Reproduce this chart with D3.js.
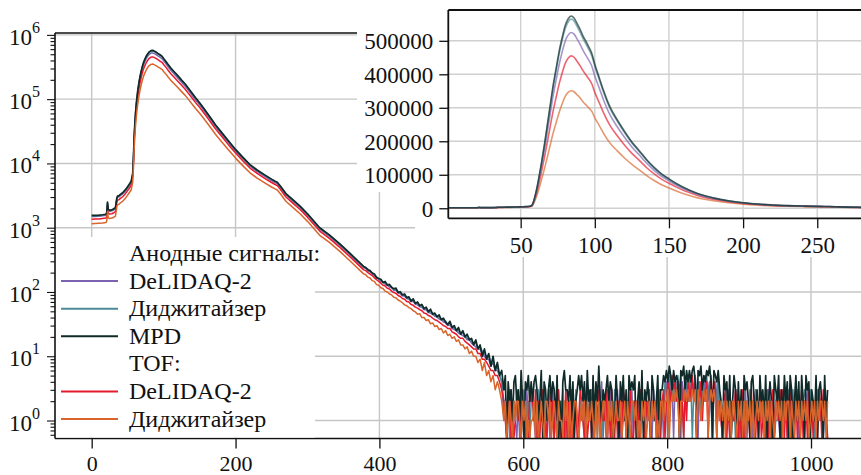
<!DOCTYPE html>
<html>
<head>
<meta charset="utf-8">
<script src="https://cdn.jsdelivr.net/npm/d3@7"></script>
<style>
  body { margin: 0; background: #fff; }
</style>
</head>
<body>
<div id="chart"></div>
<script>
// ---- data: bins of the smooth part of the spectra ----
const binsSmooth = [
  0, 5, 10, 15, 20, 21, 22, 23, 25, 28,
  30, 33, 35, 36, 38, 40, 43, 46, 49, 52,
  55, 57, 58, 59, 60, 61, 62, 64, 66, 68,
  70, 72, 74, 76, 78, 80, 82, 84, 86, 88,
  90, 92, 95, 98, 100, 103, 106, 110, 115, 120,
  125, 130, 135, 140, 145, 150, 155, 160, 166, 172,
  180, 190, 200, 210, 220, 230, 240, 250, 255, 258,
  262, 270, 280, 290, 300, 317, 330, 345, 360, 378
];

// anode, DeLIDAQ-2
const anodeDelidaqSmooth = [
  1490, 1500, 1510, 1530, 1560, 1680, 2350, 1850, 1800, 1830,
  1870, 1960, 2780, 2970, 3020, 3170, 3350, 3630, 4010, 4480,
  5050, 6600, 11000, 23000, 38500, 57000, 78000, 124000, 174000, 229000,
  284000, 339000, 385000, 430000, 467000, 499000, 517000, 525000, 520000, 506000,
  490000, 472000, 449000, 424000, 395000, 359000, 322000, 281000, 244000, 212000,
  183000, 159000, 134500, 113000, 95500, 81800, 68900, 57800, 46700, 37400,
  29000, 21100, 15500, 11800, 9070, 7480, 6350, 5400, 5030, 4840,
  4270, 3230, 2570, 2040, 1570, 950, 740, 532, 371, 238
];
// anode, digitizer
const anodeDigitizerSmooth = [
  1520, 1530, 1540, 1560, 1590, 1720, 2400, 1900, 1840, 1870,
  1910, 2000, 2850, 3050, 3100, 3250, 3430, 3720, 4120, 4600,
  5200, 6800, 11500, 24000, 41000, 60000, 83000, 132000, 186000, 245000,
  304000, 363000, 413000, 462000, 502000, 536000, 556000, 565000, 559000, 543000,
  526000, 507000, 482000, 455000, 424000, 384000, 345000, 300000, 261000, 226000,
  195000, 169000, 143000, 120000, 101000, 86500, 72800, 61000, 49200, 39400,
  30500, 22100, 16200, 12300, 9450, 7780, 6600, 5600, 5210, 5020,
  4430, 3350, 2660, 2110, 1620, 985, 765, 550, 383, 246
];
// anode, MPD
const anodeMpdSmooth = [
  1550, 1560, 1570, 1590, 1620, 1750, 2500, 1950, 1880, 1900,
  1950, 2050, 2900, 3100, 3150, 3300, 3500, 3800, 4200, 4700,
  5300, 7000, 12000, 25000, 42000, 62000, 85000, 135000, 190000, 250000,
  310000, 370000, 420000, 470000, 510000, 545000, 565000, 574000, 568000, 552000,
  535000, 515000, 490000, 462000, 430000, 390000, 350000, 305000, 265000, 230000,
  198000, 172000, 145000, 122000, 103000, 88000, 74000, 62000, 50000, 40000,
  31000, 22500, 16500, 12500, 9600, 7900, 6700, 5700, 5300, 5100,
  4500, 3400, 2700, 2150, 1650, 1000, 780, 560, 390, 250
];
// TOF, DeLIDAQ-2
const tofDelidaqSmooth = [
  1350, 1360, 1370, 1390, 1410, 1520, 2150, 1680, 1630, 1650,
  1690, 1780, 2500, 2680, 2730, 2860, 3030, 3290, 3640, 4070,
  4600, 6000, 9800, 20500, 34000, 50000, 68000, 108000, 151000, 198000,
  246000, 293000, 333000, 372000, 404000, 432000, 448000, 455000, 451000, 439000,
  426000, 411000, 392000, 371000, 346000, 315000, 284000, 249000, 217000, 189000,
  164000, 143000, 121000, 102500, 86800, 74500, 63000, 53000, 43000, 34500,
  26900, 19600, 14500, 11000, 8480, 6990, 5930, 5050, 4700, 4520,
  3990, 3010, 2390, 1900, 1460, 885, 690, 495, 345, 221
];
// TOF, digitizer
const tofDigitizerSmooth = [
  1150, 1160, 1170, 1180, 1200, 1290, 1800, 1420, 1390, 1410,
  1440, 1520, 2130, 2280, 2320, 2440, 2580, 2800, 3100, 3470,
  3900, 5100, 8200, 16500, 27000, 39000, 53000, 84000, 117000, 153000,
  190000, 226000, 257000, 287000, 312000, 334000, 346000, 351000, 348000, 339000,
  330000, 318000, 304000, 289000, 270000, 247000, 223000, 196000, 172000, 150000,
  131000, 114500, 97500, 82800, 70300, 60500, 51300, 43300, 35300, 28400,
  22200, 16300, 12100, 9250, 7150, 5920, 5030, 4300, 4010, 3860,
  3410, 2580, 2050, 1630, 1255, 762, 595, 428, 298, 191
];

// ---- tail: bins 381, 384, ... 570 (every 3rd bin) ----
const decayStart = 381;
const decayStep = 3;
const anodeDelidaqDecay = [232, 214, 206, 190, 181, 165, 158, 147, 141, 132, 127, 119, 116, 106, 107, 97,
  94, 87, 86, 79, 77, 71, 71, 65, 63, 59, 58, 53, 53, 48, 47, 45, 42, 41, 38, 37, 34, 33, 30, 31,
  27, 26, 25, 23, 22, 21, 20, 18, 18, 16, 15, 14, 13, 13, 11, 10, 9, 9, 7, 8, 6, 6, 5, 4];
const anodeDigitizerDecay = [236, 225, 208, 199, 183, 172, 160, 152, 143, 139, 131, 125, 120, 109, 110, 101,
  96, 92, 88, 84, 79, 75, 73, 68, 66, 62, 60, 56, 55, 51, 50, 47, 44, 43, 40, 38, 36, 35, 31, 33,
  29, 27, 26, 25, 23, 23, 21, 19, 19, 17, 16, 16, 13, 14, 12, 11, 10, 10, 8, 8, 6, 7, 5, 4];
const anodeMpdDecay = [240, 222, 215, 197, 190, 168, 162, 158, 140, 146, 128, 131, 118, 112, 115, 98,
  101, 90, 93, 81, 84, 72, 78, 66, 70, 61, 64, 55, 58, 49, 54, 45, 47, 41, 44, 37, 39, 34, 31, 35,
  28, 30, 25, 28, 22, 25, 20, 22, 18, 19, 15, 18, 13, 15, 10, 13, 9, 11, 7, 10, 6, 8, 5, 6];
const tofDelidaqDecay = [215, 200, 190, 180, 166, 155, 146, 137, 127, 124, 114, 111, 103, 98, 95, 88,
  85, 79, 77, 71, 70, 64, 62, 58, 56, 53, 51, 47, 46, 43, 42, 39, 37, 36, 34, 32, 30, 29, 27, 27,
  24, 23, 22, 20, 19, 19, 17, 16, 15, 14, 13, 13, 11, 11, 9, 9, 8, 7, 6, 6, 5, 5, 4, 3];
const tofDigitizerDecay = [185, 170, 165, 150, 146, 130, 127, 116, 113, 103, 100, 93, 90, 83, 81, 75,
  72, 68, 63, 61, 57, 55, 51, 49, 45, 46, 40, 40, 36, 37, 32, 33, 29, 30, 26, 27, 23, 25, 21, 22,
  19, 20, 17, 18, 15, 15, 13, 14, 11, 12, 10, 10, 8, 9, 6, 8, 5, 6, 4, 5, 3, 4, 3, 2];

// ---- background counts: bins 573, 575, ... 1023, one digit per bin ----
const noiseStart = 573;
const noiseStep = 2;
const anodeDelidaqNoise =
  "1202301210" + "2031203122" + "3102021102" + "2201302221" + "1302102102" +
  "2102213021" + "1302212240" + "2102302113" + "1031220213" + "0222103102" +
  "2120312021" + "2034253304" + "4230425324" + "2435204322" + "5234204235" +
  "2102213021" + "1302022130" + "2120232022" + "1202320212" + "3102112320" +
  "1021302210" + "2301120231" + "220210";
const anodeDigitizerNoise =
  "2212030212" + "2102321202" + "2120312130" + "1312102031" + "2120322021" +
  "3102110231" + "1122302102" + "2031220312" + "1203122031" + "2110322102" +
  "1302112032" + "2143025324" + "3524203425" + "4035243142" + "3524203415" +
  "1202131202" + "2031220212" + "1312032021" + "2023122301" + "1220322031" +
  "1302120223" + "2103120312" + "120311";
const anodeMpdNoise =
  "3504231452" + "3162043524" + "2453126043" + "1352431502" + "0463325140" +
  "2353524162" + "3051427213" + "2352430152" + "0425130534" + "3502416032" +
  "4205312503" + "3546475364" + "5406573646" + "4674065735" + "4657406546" +
  "3205341502" + "5304130534" + "2045213052" + "3150242053" + "2503152405" +
  "3025140520" + "5340321503" + "420513";
const tofDelidaqNoise =
  "2102302013" + "1203101032" + "2130202301" + "0231202130" + "1203020302" +
  "2013210201" + "3020213021" + "1302031020" + "2103202130" + "0212031202" +
  "1302120310" + "2302432534" + "2435203142" + "3524032413" + "2403524302" +
  "2102302021" + "1320203012" + "2031202130" + "1203020302" + "2130302023" +
  "0213021302" + "2031202103" + "203120";
const tofDigitizerNoise =
  "1201210212" + "2102120101" + "1202012102" + "2120121021" + "1021202012" +
  "2101212021" + "1210202012" + "2102120121" + "1201202102" + "2120102120" +
  "1202120102" + "2122302232" + "3202223232" + "2323032123" + "2302323202" +
  "1212021202" + "2102120202" + "1202012121" + "2021202102" + "1212021220" +
  "2102120212" + "1201212021" + "221202";

// ---- labels and ticks ----
const seriesLabels = ["DeLIDAQ-2", "Диджитайзер", "MPD", "DeLIDAQ-2", "Диджитайзер"];
const groupLabels = ["Анодные сигналы:", "TOF:"];
const mainXTicks = [0, 200, 400, 600, 800, 1000];
const mainYDecades = [0, 1, 2, 3, 4, 5, 6];
const insetXTicks = [50, 100, 150, 200, 250];
const insetYTicks = [0, 100000, 200000, 300000, 400000, 500000];

// ---- styles ----
const seriesColors = ["#7d62b0", "#4b8a97", "#0f2a28", "#e61a2e", "#d9652b"];
const gridColor = "#c6c6c6";
const serif = '"Liberation Serif", "DejaVu Serif", "Noto Serif", serif';

function buildSeries(smooth, decay, noise) {
  const pts = binsSmooth.map((b, i) => [b, smooth[i]]);
  decay.forEach((v, i) => pts.push([decayStart + i * decayStep, v]));
  noise.split("").forEach((c, i) => pts.push([noiseStart + i * noiseStep, +c]));
  return pts;
}

const series = [
  buildSeries(anodeDelidaqSmooth, anodeDelidaqDecay, anodeDelidaqNoise),
  buildSeries(anodeDigitizerSmooth, anodeDigitizerDecay, anodeDigitizerNoise),
  buildSeries(anodeMpdSmooth, anodeMpdDecay, anodeMpdNoise),
  buildSeries(tofDelidaqSmooth, tofDelidaqDecay, tofDelidaqNoise),
  buildSeries(tofDigitizerSmooth, tofDigitizerDecay, tofDigitizerNoise)
];
// main plot: TOF DeLIDAQ under MPD, TOF digitizer on top; inset: MPD on top
const mainOrder = [0, 1, 3, 2, 4];
const insetOrder = [4, 3, 0, 1, 2];

const svg = d3.select("#chart").append("svg")
    .attr("width", 861)
    .attr("height", 475)
    .attr("font-family", serif);

svg.append("rect").attr("width", 861).attr("height", 475).attr("fill", "#fff");

// ================= main (log) axes =================
const main = {left: 55, right: 861, top: 33, bottom: 438.5};
const xMain = d3.scaleLinear().domain([-51, 1069.5]).range([main.left, main.right]);
const yMain = d3.scaleLog().domain([0.525, 1.07e6]).range([main.bottom, main.top]).clamp(true);

const defs = svg.append("defs");
defs.append("clipPath").attr("id", "clip-main").append("rect")
    .attr("x", main.left).attr("y", main.top)
    .attr("width", main.right - main.left).attr("height", main.bottom - main.top);

const mainGrid = svg.append("g").attr("clip-path", "url(#clip-main)");
mainGrid.selectAll(".vgrid").data(mainXTicks).join("line")
    .attr("x1", d => xMain(d)).attr("x2", d => xMain(d))
    .attr("y1", main.top).attr("y2", main.bottom)
    .attr("stroke", gridColor).attr("stroke-width", 1.4);
mainGrid.selectAll(".hgrid").data(mainYDecades).join("line")
    .attr("x1", main.left).attr("x2", main.right)
    .attr("y1", d => yMain(Math.pow(10, d))).attr("y2", d => yMain(Math.pow(10, d)))
    .attr("stroke", gridColor).attr("stroke-width", 1.4);

const lineMain = d3.line().x(d => xMain(d[0])).y(d => yMain(d[1]));
svg.append("g").attr("clip-path", "url(#clip-main)")
  .selectAll("path").data(mainOrder).join("path")
    .attr("d", i => lineMain(series[i]))
    .attr("fill", "none")
    .attr("stroke", i => seriesColors[i])
    .attr("stroke-width", i => i === 2 ? 1.7 : 1.5)
    .attr("stroke-linejoin", "round");

// spines
const spines = svg.append("g").attr("stroke", "#111").attr("stroke-width", 1.6);
spines.append("line").attr("x1", main.left).attr("x2", main.left).attr("y1", main.top).attr("y2", main.bottom);
spines.append("line").attr("x1", main.left).attr("x2", main.right).attr("y1", main.bottom).attr("y2", main.bottom);
spines.append("line").attr("x1", main.left).attr("x2", main.right).attr("y1", main.top).attr("y2", main.top);

// x axis
const xAxisMain = svg.append("g")
    .attr("transform", `translate(0,${main.bottom})`)
    .call(d3.axisBottom(xMain).tickValues(mainXTicks).tickSize(10).tickSizeOuter(0).tickFormat(d3.format("d")));
xAxisMain.attr("font-family", serif);
xAxisMain.select(".domain").remove();
xAxisMain.selectAll(".tick line").attr("stroke", "#111").attr("stroke-width", 1.3);
xAxisMain.selectAll(".tick text").attr("y", 32).attr("dy", 0)
    .attr("fill", "#111").style("font-family", serif).style("font-size", "22px");

// y axis (log) major + minor ticks
const minorTicks = [];
[-1, 0, 1, 2, 3, 4, 5].forEach(k => {
  for (let m = 2; m <= 9; m++) {
    const v = m * Math.pow(10, k);
    if (v >= 0.525 && v <= 1.07e6) minorTicks.push(v);
  }
});
const yAxisMain = svg.append("g").attr("transform", `translate(${main.left},0)`);
yAxisMain.call(d3.axisLeft(yMain).tickValues(mainYDecades.map(d => Math.pow(10, d))).tickSize(8).tickSizeOuter(0).tickFormat(""));
yAxisMain.append("g")
    .call(d3.axisLeft(yMain).tickValues(minorTicks).tickSize(4.5).tickSizeOuter(0).tickFormat(""));
yAxisMain.selectAll(".domain").remove();
yAxisMain.selectAll(".tick line").attr("stroke", "#111").attr("stroke-width", 1.1);

const yLabels = svg.append("g").selectAll("text").data(mainYDecades).join("text")
    .attr("x", 40)
    .attr("y", d => yMain(Math.pow(10, d)) + 10)
    .attr("text-anchor", "end")
    .attr("fill", "#111")
    .style("font-family", serif)
    .style("font-size", "23px");
yLabels.append("tspan").text("10");
yLabels.append("tspan").attr("dy", -12).style("font-size", "16px").text(d => d);

// legend
const legend = svg.append("g");
legend.append("rect")
    .attr("x", 56).attr("y", 237).attr("width", 259).attr("height", 200.5)
    .attr("fill", "#fff");
const legendRows = [
  {text: groupLabels[0]}, {series: 0}, {series: 1}, {series: 2},
  {text: groupLabels[1]}, {series: 3}, {series: 4}
];
legendRows.forEach((row, i) => {
  const baseline = 261 + 27.6 * i;
  if (row.series !== undefined) {
    legend.append("line")
        .attr("x1", 61).attr("x2", 118)
        .attr("y1", baseline - 7.5).attr("y2", baseline - 7.5)
        .attr("stroke", seriesColors[row.series]).attr("stroke-width", 2);
  }
  legend.append("text")
      .attr("x", 129).attr("y", baseline)
      .attr("fill", "#111")
      .style("font-family", serif)
      .style("font-size", "24px")
      .text(row.series !== undefined ? seriesLabels[row.series] : row.text);
});

// ================= inset (linear) =================
svg.append("path")
    .attr("d", "M357,0H861V257H415V192H357Z")
    .attr("fill", "#fff");

const inset = {left: 448.3, right: 861, top: 10, bottom: 218.3};
const xIn = d3.scaleLinear().domain([1.2, 279.5]).range([inset.left, inset.right]);
const yIn = d3.scaleLinear().domain([-30000, 592000]).range([inset.bottom, inset.top]);

defs.append("clipPath").attr("id", "clip-inset").append("rect")
    .attr("x", inset.left).attr("y", inset.top)
    .attr("width", inset.right - inset.left).attr("height", inset.bottom - inset.top);

const insetGrid = svg.append("g").attr("clip-path", "url(#clip-inset)");
insetGrid.selectAll(".vgrid").data(insetXTicks).join("line")
    .attr("x1", d => xIn(d)).attr("x2", d => xIn(d))
    .attr("y1", inset.top).attr("y2", inset.bottom)
    .attr("stroke", "#d0d0d0").attr("stroke-width", 1.4);
insetGrid.selectAll(".hgrid").data(insetYTicks).join("line")
    .attr("x1", inset.left).attr("x2", inset.right)
    .attr("y1", d => yIn(d)).attr("y2", d => yIn(d))
    .attr("stroke", "#d0d0d0").attr("stroke-width", 1.4);

const lineIn = d3.line().x(d => xIn(d[0])).y(d => yIn(d[1])).curve(d3.curveMonotoneX);
svg.append("g").attr("clip-path", "url(#clip-inset)")
  .selectAll("path").data(insetOrder).join("path")
    .attr("d", i => lineIn(series[i].filter(d => d[0] <= 300)))
    .attr("fill", "none")
    .attr("stroke", i => seriesColors[i])
    .attr("stroke-opacity", 0.68)
    .attr("stroke-width", 1.6);

const insetSpines = svg.append("g").attr("stroke", "#111").attr("stroke-width", 1.8);
insetSpines.append("line").attr("x1", inset.left).attr("x2", inset.left).attr("y1", inset.top).attr("y2", inset.bottom);
insetSpines.append("line").attr("x1", inset.left).attr("x2", inset.right).attr("y1", inset.bottom).attr("y2", inset.bottom);
insetSpines.append("line").attr("x1", inset.left).attr("x2", inset.right).attr("y1", inset.top).attr("y2", inset.top);

const xAxisIn = svg.append("g")
    .attr("transform", `translate(0,${inset.bottom})`)
    .call(d3.axisBottom(xIn).tickValues(insetXTicks).tickSize(10).tickSizeOuter(0).tickFormat(d3.format("d")));
xAxisIn.select(".domain").remove();
xAxisIn.selectAll(".tick line").attr("stroke", "#111").attr("stroke-width", 1.3);
xAxisIn.selectAll(".tick text").attr("y", 35).attr("dy", 0)
    .attr("fill", "#111").style("font-family", serif).style("font-size", "23px");

const yAxisIn = svg.append("g")
    .attr("transform", `translate(${inset.left},0)`)
    .call(d3.axisLeft(yIn).tickValues(insetYTicks).tickSize(9).tickSizeOuter(0).tickFormat(d3.format("d")));
yAxisIn.select(".domain").remove();
yAxisIn.selectAll(".tick line").attr("stroke", "#111").attr("stroke-width", 1.3);
yAxisIn.selectAll(".tick text").attr("x", -15).attr("dy", "0.34em")
    .attr("fill", "#111").style("font-family", serif).style("font-size", "23px");
</script>
</body>
</html>
